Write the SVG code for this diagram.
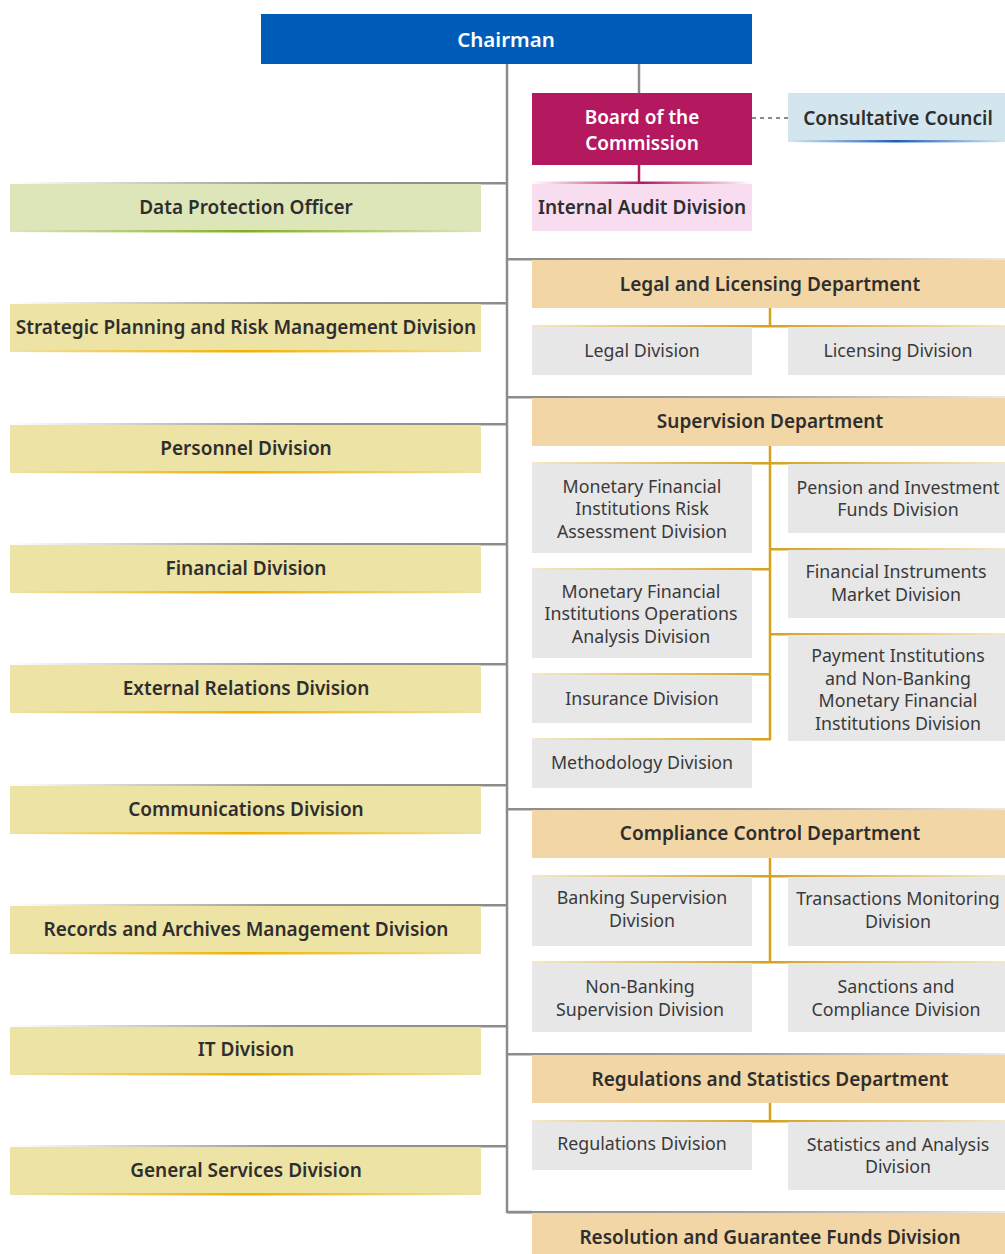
<svg xmlns="http://www.w3.org/2000/svg" width="1005" height="1254" viewBox="0 0 1005 1254">
<defs>
<style>
text{font-family:"Noto Sans","Open Sans","DejaVu Sans",sans-serif;fill:#2e2e2e;text-anchor:middle;dominant-baseline:central}
.h{font-size:19px;font-weight:600}
.s{font-size:17.8px;font-weight:400;fill:#3a3a3a}
.w{fill:#fff}
.chair{fill:#005cb9}
.board{fill:#b4195f}
.cc{fill:#d3e6ef}
.ia{fill:#f7ddef}
.dpo{fill:#dde6b8}
.yb{fill:#ede3a4}
.dep{fill:#f2d6a6}
.sub{fill:#e7e7e8}
.gl{stroke:#d4a21c;stroke-width:2.5;fill:none}
.gr{stroke:#8c8c8c;stroke-width:2.5;fill:none}
</style>
<linearGradient id="gLeft" x1="0" x2="1" y1="0" y2="0"><stop offset="0" stop-color="#8c8c8c" stop-opacity="0"/><stop offset="0.55" stop-color="#8c8c8c" stop-opacity="0.9"/><stop offset="1" stop-color="#8c8c8c"/></linearGradient>
<linearGradient id="gRight" x1="0" x2="1" y1="0" y2="0"><stop offset="0" stop-color="#8c8c8c"/><stop offset="0.5" stop-color="#8c8c8c" stop-opacity="0.8"/><stop offset="1" stop-color="#8c8c8c" stop-opacity="0.2"/></linearGradient>
<linearGradient id="goldBoth" x1="0" x2="1" y1="0" y2="0"><stop offset="0" stop-color="#d4a21c" stop-opacity="0.25"/><stop offset="0.5" stop-color="#d4a21c"/><stop offset="1" stop-color="#d4a21c" stop-opacity="0.25"/></linearGradient>
<linearGradient id="goldL" x1="0" x2="1" y1="0" y2="0"><stop offset="0" stop-color="#d4a21c" stop-opacity="0.25"/><stop offset="1" stop-color="#d4a21c"/></linearGradient>
<linearGradient id="goldR" x1="0" x2="1" y1="0" y2="0"><stop offset="0" stop-color="#d4a21c"/><stop offset="1" stop-color="#d4a21c" stop-opacity="0.25"/></linearGradient>
<linearGradient id="ulY" x1="0" x2="1" y1="0" y2="0"><stop offset="0" stop-color="#f2b600" stop-opacity="0"/><stop offset="0.5" stop-color="#f2b000"/><stop offset="1" stop-color="#f2b600" stop-opacity="0"/></linearGradient>
<linearGradient id="ulG" x1="0" x2="1" y1="0" y2="0"><stop offset="0" stop-color="#8ab52a" stop-opacity="0"/><stop offset="0.5" stop-color="#7fae1e"/><stop offset="1" stop-color="#8ab52a" stop-opacity="0"/></linearGradient>
<linearGradient id="ulB" x1="0" x2="1" y1="0" y2="0"><stop offset="0" stop-color="#2a6fc0" stop-opacity="0"/><stop offset="0.5" stop-color="#1f5fb5"/><stop offset="1" stop-color="#2a6fc0" stop-opacity="0"/></linearGradient>
<linearGradient id="ulM" x1="0" x2="1" y1="0" y2="0"><stop offset="0" stop-color="#b4195f" stop-opacity="0"/><stop offset="0.5" stop-color="#b4195f"/><stop offset="1" stop-color="#b4195f" stop-opacity="0"/></linearGradient>
</defs>
<rect width="1005" height="1254" fill="#fff"/>

<g id="connectors">
<line class="gr" x1="507" y1="64" x2="507" y2="1213"/>
<line class="gr" x1="507" y1="1212" x2="532" y2="1212"/>
<line class="gr" x1="639" y1="64" x2="639" y2="93"/>
<line x1="752" y1="118" x2="788" y2="118" stroke="#8c8c8c" stroke-width="2" stroke-dasharray="4,4"/>
<line x1="639" y1="165" x2="639" y2="183" stroke="#b4195f" stroke-width="2.5"/>
<rect x="532" y="181.5" width="220" height="2.5" fill="url(#ulM)"/>
<rect x="10" y="182" width="497" height="2.5" fill="url(#gLeft)"/>
<rect x="10" y="302" width="497" height="2.5" fill="url(#gLeft)"/>
<rect x="10" y="423" width="497" height="2.5" fill="url(#gLeft)"/>
<rect x="10" y="543" width="497" height="2.5" fill="url(#gLeft)"/>
<rect x="10" y="663" width="497" height="2.5" fill="url(#gLeft)"/>
<rect x="10" y="784" width="497" height="2.5" fill="url(#gLeft)"/>
<rect x="10" y="904" width="497" height="2.5" fill="url(#gLeft)"/>
<rect x="10" y="1025" width="497" height="2.5" fill="url(#gLeft)"/>
<rect x="10" y="1145" width="497" height="2.5" fill="url(#gLeft)"/>
<rect x="507" y="258" width="498" height="2.5" fill="url(#gRight)"/>
<rect x="507" y="396" width="498" height="2.5" fill="url(#gRight)"/>
<rect x="507" y="808" width="498" height="2.5" fill="url(#gRight)"/>
<rect x="507" y="1053" width="498" height="2.5" fill="url(#gRight)"/>
<rect x="507" y="1211" width="498" height="2.5" fill="url(#gRight)"/>
<line class="gl" x1="770" y1="308" x2="770" y2="326"/>
<rect x="532" y="325" width="473" height="2.5" fill="url(#goldBoth)"/>
<line class="gl" x1="770" y1="446" x2="770" y2="740"/>
<rect x="532" y="462" width="473" height="2.5" fill="url(#goldBoth)"/>
<rect x="532" y="568" width="239" height="2.5" fill="url(#goldL)"/>
<rect x="532" y="673" width="239" height="2.5" fill="url(#goldL)"/>
<rect x="532" y="738" width="239" height="2.5" fill="url(#goldL)"/>
<rect x="769" y="548" width="236" height="2.5" fill="url(#goldR)"/>
<rect x="769" y="633" width="236" height="2.5" fill="url(#goldR)"/>
<line class="gl" x1="770" y1="858" x2="770" y2="963"/>
<rect x="532" y="875" width="473" height="2.5" fill="url(#goldBoth)"/>
<rect x="532" y="961" width="473" height="2.5" fill="url(#goldBoth)"/>
<line class="gl" x1="770" y1="1103" x2="770" y2="1121"/>
<rect x="532" y="1120" width="473" height="2.5" fill="url(#goldBoth)"/>
</g>

<g id="chairman"><rect class="chair" x="261" y="14" width="491" height="50"/><text class="h w" x="506" y="39" style="font-size:20.5px">Chairman</text></g>
<g id="board"><rect class="board" x="532" y="93" width="220" height="72"/><text class="h w" x="642" y="117">Board of the</text><text class="h w" x="642" y="143">Commission</text></g>
<g id="consultative"><rect class="cc" x="788" y="93" width="217" height="49"/><rect x="788" y="140" width="217" height="2.5" fill="url(#ulB)"/><text class="h" x="898" y="118">Consultative Council</text></g>
<g id="internal-audit"><rect class="ia" x="532" y="184" width="220" height="47"/><text class="h" x="642" y="207">Internal Audit Division</text></g>

<g id="dpo"><rect class="dpo" x="10" y="184" width="471" height="48"/><rect x="10" y="230" width="471" height="2.5" fill="url(#ulG)"/><text class="h" x="246" y="207">Data Protection Officer</text></g>
<g id="strategic"><rect class="yb" x="10" y="304" width="471" height="48"/><rect x="10" y="350" width="471" height="2.5" fill="url(#ulY)"/><text class="h" x="246" y="327">Strategic Planning and Risk Management Division</text></g>
<g id="personnel"><rect class="yb" x="10" y="425" width="471" height="48"/><rect x="10" y="471" width="471" height="2.5" fill="url(#ulY)"/><text class="h" x="246" y="448">Personnel Division</text></g>
<g id="financial"><rect class="yb" x="10" y="545" width="471" height="48"/><rect x="10" y="591" width="471" height="2.5" fill="url(#ulY)"/><text class="h" x="246" y="568">Financial Division</text></g>
<g id="external"><rect class="yb" x="10" y="665" width="471" height="48"/><rect x="10" y="711" width="471" height="2.5" fill="url(#ulY)"/><text class="h" x="246" y="688">External Relations Division</text></g>
<g id="communications"><rect class="yb" x="10" y="786" width="471" height="48"/><rect x="10" y="832" width="471" height="2.5" fill="url(#ulY)"/><text class="h" x="246" y="809">Communications Division</text></g>
<g id="records"><rect class="yb" x="10" y="906" width="471" height="48"/><rect x="10" y="952" width="471" height="2.5" fill="url(#ulY)"/><text class="h" x="246" y="929">Records and Archives Management Division</text></g>
<g id="it"><rect class="yb" x="10" y="1027" width="471" height="48"/><rect x="10" y="1073" width="471" height="2.5" fill="url(#ulY)"/><text class="h" x="246" y="1049">IT Division</text></g>
<g id="general"><rect class="yb" x="10" y="1147" width="471" height="48"/><rect x="10" y="1193" width="471" height="2.5" fill="url(#ulY)"/><text class="h" x="246" y="1170">General Services Division</text></g>

<g id="legal-licensing-dept"><rect class="dep" x="532" y="260" width="473" height="48"/><text class="h" x="770" y="284">Legal and Licensing Department</text></g>
<g id="legal"><rect class="sub" x="532" y="327" width="220" height="48"/><text class="s" x="642" y="350">Legal Division</text></g>
<g id="licensing"><rect class="sub" x="788" y="327" width="217" height="48"/><text class="s" x="898" y="350">Licensing Division</text></g>

<g id="supervision-dept"><rect class="dep" x="532" y="398" width="473" height="48"/><text class="h" x="770" y="421">Supervision Department</text></g>
<g id="mfi-risk"><rect class="sub" x="532" y="464" width="220" height="89"/><text class="s" x="642" y="486">Monetary Financial</text><text class="s" x="642" y="508">Institutions Risk</text><text class="s" x="642" y="531">Assessment Division</text></g>
<g id="mfi-ops"><rect class="sub" x="532" y="570" width="220" height="88"/><text class="s" x="641" y="591">Monetary Financial</text><text class="s" x="641" y="613">Institutions Operations</text><text class="s" x="641" y="636">Analysis Division</text></g>
<g id="insurance"><rect class="sub" x="532" y="675" width="220" height="48"/><text class="s" x="642" y="698">Insurance Division</text></g>
<g id="methodology"><rect class="sub" x="532" y="740" width="220" height="48"/><text class="s" x="642" y="762">Methodology Division</text></g>
<g id="pension"><rect class="sub" x="788" y="464" width="217" height="69"/><text class="s" x="898" y="487">Pension and Investment</text><text class="s" x="898" y="509">Funds Division</text></g>
<g id="fin-instruments"><rect class="sub" x="788" y="550" width="217" height="68"/><text class="s" x="896" y="571">Financial Instruments</text><text class="s" x="896" y="594">Market Division</text></g>
<g id="payment"><rect class="sub" x="788" y="635" width="217" height="106"/><text class="s" x="898" y="655">Payment Institutions</text><text class="s" x="898" y="678">and Non-Banking</text><text class="s" x="898" y="700">Monetary Financial</text><text class="s" x="898" y="723">Institutions Division</text></g>

<g id="compliance-dept"><rect class="dep" x="532" y="810" width="473" height="48"/><text class="h" x="770" y="833">Compliance Control Department</text></g>
<g id="banking"><rect class="sub" x="532" y="877" width="220" height="69"/><text class="s" x="642" y="897">Banking Supervision</text><text class="s" x="642" y="920">Division</text></g>
<g id="transactions"><rect class="sub" x="788" y="877" width="217" height="69"/><text class="s" x="898" y="898">Transactions Monitoring</text><text class="s" x="898" y="921">Division</text></g>
<g id="non-banking"><rect class="sub" x="532" y="963" width="220" height="69"/><text class="s" x="640" y="986">Non-Banking</text><text class="s" x="640" y="1009">Supervision Division</text></g>
<g id="sanctions"><rect class="sub" x="788" y="963" width="217" height="69"/><text class="s" x="896" y="986">Sanctions and</text><text class="s" x="896" y="1009">Compliance Division</text></g>

<g id="regulations-dept"><rect class="dep" x="532" y="1055" width="473" height="48"/><text class="h" x="770" y="1079">Regulations and Statistics Department</text></g>
<g id="regulations"><rect class="sub" x="532" y="1122" width="220" height="48"/><text class="s" x="642" y="1143">Regulations Division</text></g>
<g id="statistics"><rect class="sub" x="788" y="1122" width="217" height="68"/><text class="s" x="898" y="1144">Statistics and Analysis</text><text class="s" x="898" y="1166">Division</text></g>

<g id="resolution"><rect class="dep" x="532" y="1213" width="473" height="41"/><text class="h" x="770" y="1237">Resolution and Guarantee Funds Division</text></g>
</svg>
